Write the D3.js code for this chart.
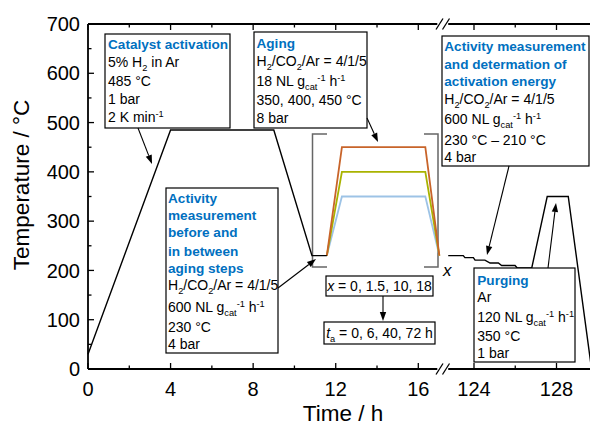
<!DOCTYPE html>
<html>
<head>
<meta charset="utf-8">
<script src="https://cdn.jsdelivr.net/npm/d3@7"></script>
<style>
  html, body { margin: 0; padding: 0; background: #fff; }
  svg { display: block; font-family: "Liberation Sans", Arial, sans-serif; }
</style>
</head>
<body>
<svg id="chart" width="590" height="425"></svg>
<script>
// ---- data ----
const yTicks = [0, 100, 200, 300, 400, 500, 600, 700];
const yMinorTicks = [50, 150, 250, 350, 450, 550, 650];
const xTicksLeft = [0, 4, 8, 12, 16];
const xMinorLeft = [2, 6, 10, 14];
const xTicksRight = [124, 128];
const xMinorRight = [126];

// activation and first activity measurement (h, °C)
const activationTime = [0, 4, 9, 10.85, 11.57];
const activationTemp = [30, 485, 485, 230, 230];

// aging ramps, one per aging temperature
const agingTemps = [350, 400, 450];
const agingColors = ["#9dc3e6", "#a9b300", "#c8642a"];
const agingTime = [11.57, 12.3, 16.34, 17.02];

// final activity measurement (230 → 210 °C), purging and cool-down
const finalTime = [122.75, 123.48, 123.56, 123.97, 124.05, 124.53, 124.78, 125.18, 125.34, 125.99, 126.1, 126.8, 127.55, 128.57, 129.7];
const finalTemp = [230, 230, 226, 226, 221, 221, 215, 215, 210, 210, 205, 205, 350, 350, 0];

// ---- scales ----
const svg = d3.select("#chart");
const y = d3.scaleLinear().domain([0, 700]).range([369, 24]);
const xL = d3.scaleLinear().domain([0, 16]).range([88, 418.3]);
const xR = d3.scaleLinear().domain([124, 128]).range([474, 556.5]);
const leftEnd = 16.92, rightStart = 122.75;

const BLUE = "#0070c0";

// ---- axes frame ----
const ax = svg.append("g").attr("stroke", "#000").attr("stroke-width", 1.8).attr("fill", "none");
[24, 369].forEach(yy => {
  ax.append("line").attr("x1", xL(0)).attr("x2", xL(leftEnd)).attr("y1", yy).attr("y2", yy);
  ax.append("line").attr("x1", xR(rightStart)).attr("x2", 592).attr("y1", yy).attr("y2", yy);
  // axis break marks
  [439.5, 446].forEach(cx => {
    ax.append("line").attr("x1", cx - 3.5).attr("y1", yy + 5.5).attr("x2", cx + 3.5).attr("y2", yy - 5.5)
      .attr("stroke-width", 1.3);
  });
});
ax.append("line").attr("x1", 88).attr("x2", 88).attr("y1", 24).attr("y2", 369);

// ticks (pointing inwards)
const tk = svg.append("g").attr("stroke", "#000").attr("stroke-width", 1.3);
function xTick(px, len) {
  tk.append("line").attr("x1", px).attr("x2", px).attr("y1", 369).attr("y2", 369 - len);
  tk.append("line").attr("x1", px).attr("x2", px).attr("y1", 24).attr("y2", 24 + len);
}
xTicksLeft.forEach(v => xTick(xL(v), 6));
xMinorLeft.forEach(v => xTick(xL(v), 3.5));
xTicksRight.forEach(v => xTick(xR(v), 6));
xMinorRight.forEach(v => xTick(xR(v), 3.5));
yTicks.forEach(v => tk.append("line").attr("x1", 88).attr("x2", 94).attr("y1", y(v)).attr("y2", y(v)));
yMinorTicks.forEach(v => tk.append("line").attr("x1", 88).attr("x2", 91.5).attr("y1", y(v)).attr("y2", y(v)));

// tick labels
const tl = svg.append("g").attr("font-size", 20).attr("fill", "#000");
yTicks.forEach(v => tl.append("text").attr("x", 80).attr("y", y(v)).attr("dy", "0.36em")
  .attr("text-anchor", "end").text(v));
xTicksLeft.forEach(v => tl.append("text").attr("x", xL(v)).attr("y", 395.5)
  .attr("text-anchor", "middle").text(v));
xTicksRight.forEach(v => tl.append("text").attr("x", xR(v)).attr("y", 395.5)
  .attr("text-anchor", "middle").text(v));

// axis titles
svg.append("text").attr("x", 343).attr("y", 421).attr("text-anchor", "middle")
  .attr("font-size", 22.5).text("Time / h");
svg.append("text").attr("transform", "translate(29,185) rotate(-90)").attr("text-anchor", "middle")
  .attr("font-size", 22.5).text("Temperature / °C");

// ---- temperature profile ----
const lineL = d3.line().x(d => xL(d[0])).y(d => y(d[1]));
const lineR = d3.line().x(d => xR(d[0])).y(d => y(d[1]));

// aging bracket
const br = svg.append("g").attr("stroke", "#666").attr("stroke-width", 1.5).attr("fill", "none");
br.append("path").attr("d", "M327,134H312.5V267H327");
br.append("path").attr("d", "M424,134H438V267H424");
svg.append("text").attr("x", 443).attr("y", 276).attr("font-size", 17).attr("font-style", "italic").text("x");

agingTemps.forEach((t, i) => {
  const pts = agingTime.map((h, j) => [h, (j === 0 || j === 3) ? 230 : t]);
  svg.append("path").attr("d", lineL(pts)).attr("fill", "none")
    .attr("stroke", agingColors[i]).attr("stroke-width", 1.8).attr("stroke-linejoin", "miter");
});

svg.append("path").attr("d", lineL(activationTime.map((h, i) => [h, activationTemp[i]])))
  .attr("fill", "none").attr("stroke", "#000").attr("stroke-width", 1.4);
svg.append("path").attr("d", lineR(finalTime.map((h, i) => [h, finalTemp[i]])))
  .attr("fill", "none").attr("stroke", "#000").attr("stroke-width", 1.4);

// ---- annotations ----
// Minimal markup: _{sub}, ^{sup}, *italic*
function rich(textSel, str) {
  const re = /(_|\^)\{([^}]*)\}|\*([^*]+)\*/g;
  let last = 0, shift = 0, m;
  const plain = s => { if (s) { textSel.append("tspan").attr("dy", -shift).text(s); shift = 0; } };
  while ((m = re.exec(str))) {
    plain(str.slice(last, m.index));
    if (m[3]) {
      textSel.append("tspan").attr("dy", -shift).attr("font-style", "italic").text(m[3]);
      shift = 0;
    } else {
      const s = m[1] === "_" ? 4 : -5.5;
      textSel.append("tspan").attr("dy", s - shift).attr("font-size", "0.66em").text(m[2]);
      shift = s;
    }
    last = re.lastIndex;
  }
  plain(str.slice(last));
}

function box(x0, y0, w, h, tx, lines) {
  const g = svg.append("g");
  g.append("rect").attr("x", x0).attr("y", y0).attr("width", w).attr("height", h)
    .attr("fill", "#fff").attr("stroke", "#000").attr("stroke-width", 1.2);
  lines.forEach(l => {
    const t = g.append("text").attr("x", tx).attr("y", l.y)
      .attr("font-size", l.title ? 13.6 : 14)
      .attr("font-weight", l.title ? "bold" : "normal")
      .attr("fill", l.title ? BLUE : "#000");
    rich(t, l.s);
  });
}

box(105, 34, 125, 94, 108, [
  { s: "Catalyst activation", y: 49, title: true },
  { s: "5% H_{2} in Ar", y: 67 },
  { s: "485 °C", y: 86 },
  { s: "1 bar", y: 104 },
  { s: "2 K min^{-1}", y: 122 }
]);

box(254, 32, 113, 96, 256.5, [
  { s: "Aging", y: 48, title: true },
  { s: "H_{2}/CO_{2}/Ar = 4/1/5", y: 66 },
  { s: "18 NL g_{cat}^{-1} h^{-1}", y: 86 },
  { s: "350, 400, 450 °C", y: 105 },
  { s: "8 bar", y: 123 }
]);

box(166, 188, 112, 165, 168, [
  { s: "Activity", y: 203, title: true },
  { s: "measurement", y: 219.5, title: true },
  { s: "before and", y: 237, title: true },
  { s: "in between", y: 255.5, title: true },
  { s: "aging steps", y: 273, title: true },
  { s: "H_{2}/CO_{2}/Ar = 4/1/5", y: 290 },
  { s: "600 NL g_{cat}^{-1} h^{-1}", y: 312 },
  { s: "230 °C", y: 331.5 },
  { s: "4 bar", y: 349 }
]);

box(442, 36, 147, 130, 444.3, [
  { s: "Activity measurement", y: 51, title: true },
  { s: "and determation of", y: 68.5, title: true },
  { s: "activation energy", y: 86, title: true },
  { s: "H_{2}/CO_{2}/Ar = 4/1/5", y: 103.5 },
  { s: "600 NL g_{cat}^{-1} h^{-1}", y: 124 },
  { s: "230 °C – 210 °C", y: 144.5 },
  { s: "4 bar", y: 162 }
]);

box(474, 268, 101, 94, 477.3, [
  { s: "Purging", y: 284.5, title: true },
  { s: "Ar", y: 302 },
  { s: "120 NL g_{cat}^{-1} h^{-1}", y: 322 },
  { s: "350 °C", y: 341 },
  { s: "1 bar", y: 358 }
]);

function centerBox(x0, y0, w, h, str) {
  svg.append("rect").attr("x", x0).attr("y", y0).attr("width", w).attr("height", h)
    .attr("fill", "#fff").attr("stroke", "#000").attr("stroke-width", 1.2);
  const t = svg.append("text").attr("x", x0 + w / 2).attr("y", y0 + h / 2 + 5)
    .attr("text-anchor", "middle").attr("font-size", 14);
  rich(t, str);
}
centerBox(326, 276, 107, 20, "*x* = 0, 1.5, 10, 18");
centerBox(324, 322, 111, 22, "*t*_{a} = 0, 6, 40, 72 h");

// arrows
function arrow(x1, y1, x2, y2) {
  const a = Math.atan2(y2 - y1, x2 - x1), L = 9, W = 3.2;
  const bx = x2 - L * Math.cos(a), by = y2 - L * Math.sin(a);
  svg.append("line").attr("x1", x1).attr("y1", y1).attr("x2", bx).attr("y2", by)
    .attr("stroke", "#000").attr("stroke-width", 1.1);
  svg.append("path").attr("fill", "#000")
    .attr("d", `M${x2},${y2}L${bx - W * Math.sin(a)},${by + W * Math.cos(a)}L${bx + W * Math.sin(a)},${by - W * Math.cos(a)}Z`);
}
arrow(138, 128, 152, 164);
arrow(367, 118, 378, 142);
arrow(278, 288, 316, 259);
arrow(509, 166, 487, 255);
arrow(548, 268, 556, 203);
arrow(383, 296, 383, 321);
</script>
</body>
</html>
